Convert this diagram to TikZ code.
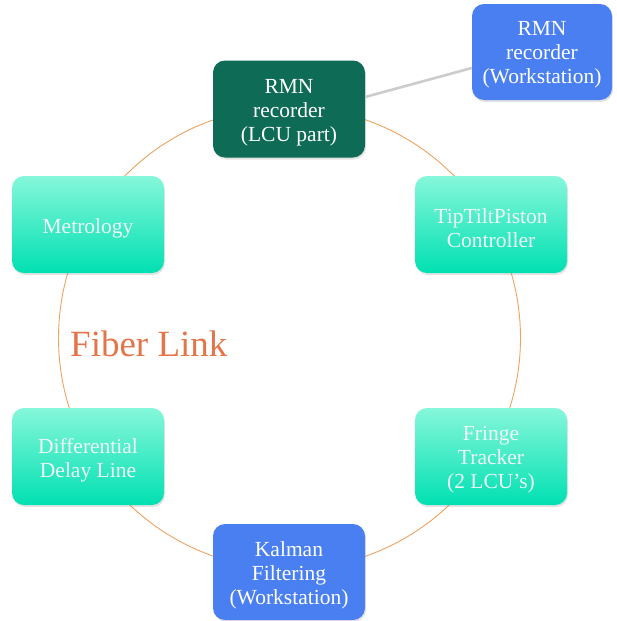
\documentclass[tikz,border=0pt]{standalone}
\usepackage{fontspec}
\setmainfont{Liberation Serif}
\usetikzlibrary{shadows}
\definecolor{darkgreen}{HTML}{0E6B55}
\definecolor{boxblue}{HTML}{4A7FF1}
\definecolor{tealtop}{HTML}{86F7DA}
\definecolor{tealbot}{HTML}{00E0B2}
\definecolor{ringorange}{HTML}{F0A260}
\definecolor{labelorange}{HTML}{E4754A}
\definecolor{linkgray}{HTML}{CCCCCC}
\tikzset{
  box/.style={rounded corners=12pt, minimum width=152pt, minimum height=97pt,
    inner sep=0pt,
    drop shadow={opacity=0.22, shadow xshift=1pt, shadow yshift=-2pt}},
  greenbox/.style={box, fill=darkgreen},
  bluebox/.style={box, fill=boxblue},
  tealbox/.style={box, top color=tealtop, bottom color=tealbot},
  boxtext/.style={align=center, inner sep=0pt, text=white,
    font=\fontsize{21.5}{24}\selectfont},
  tealtext/.style={boxtext, text=white!94!teal},
  ring/.style={draw=ringorange, line width=0.9pt},
  wslink/.style={draw=linkgray, line width=2.6pt}
}
\begin{document}
\begin{tikzpicture}[x=1pt,y=-1pt]
\useasboundingbox (0,0) rectangle (616,621);
\coordinate (c) at (289.5,338);
\draw[ring] (c) circle (231pt);
\node[greenbox] (rmnl) at (289,109) {};
\node[boxtext] (rmnl-t) at ([yshift=-3.5pt]rmnl.center) {RMN\\recorder\\(LCU part)};
\node[bluebox, minimum width=140pt, minimum height=96pt] (rmnw) at (542,52) {};
\node[boxtext] (rmnw-t) at ([yshift=-3pt]rmnw.center) {RMN\\recorder\\(Workstation)};
\draw[wslink] (rmnl.east |- 0,97) -- (rmnw.west |- 0,68);
\node[tealbox] (metro) at (88,224.5) {};
\node[tealtext] (metro-t) at ([yshift=-3.5pt]metro.center) {Metrology};
\node[tealbox] (tip) at (491,224.5) {};
\node[tealtext] (tip-t) at ([yshift=-3.5pt]tip.center) {TipTiltPiston\\Controller};
\node[tealbox] (ddl) at (88,456.5) {};
\node[tealtext] (ddl-t) at ([yshift=-3.5pt]ddl.center) {Differential\\Delay Line};
\node[tealbox] (fringe) at (491,456.5) {};
\node[tealtext] (fringe-t) at ([yshift=-3.5pt]fringe.center) {Fringe\\Tracker\\(2 LCU’s)};
\node[bluebox, minimum height=96pt] (kalman) at (289,572) {};
\node[boxtext] (kalman-t) at ([yshift=-3.5pt]kalman.center) {Kalman\\Filtering\\(Workstation)};
\node[text=labelorange, font=\fontsize{37}{40}\selectfont, anchor=west, inner sep=0pt] (fiber) at (70,344) {Fiber Link};
\end{tikzpicture}
\end{document}
